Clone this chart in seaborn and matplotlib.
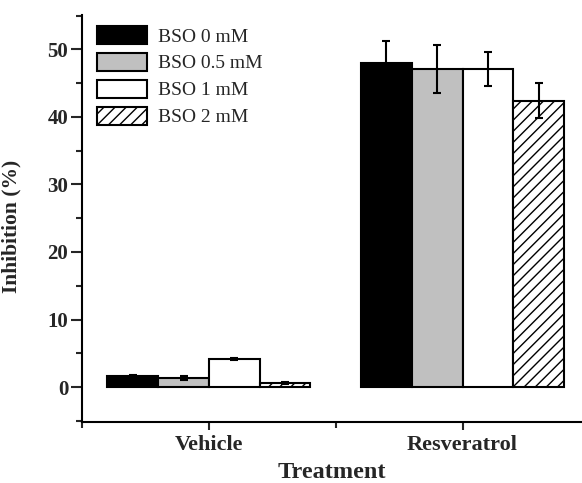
import matplotlib
matplotlib.use("Agg")
import matplotlib.pyplot as plt
import matplotlib.patches as mpatches
from matplotlib.ticker import MultipleLocator, FixedLocator
import seaborn as sns
import pandas as pd

treatments = ["Vehicle", "Resveratrol"]
bso_levels = ["BSO 0 mM", "BSO 0.5 mM", "BSO 1 mM", "BSO 2 mM"]
vehicle_means = [1.7, 1.4, 4.1, 0.6]
vehicle_errs = [0.15, 0.3, 0.15, 0.15]
resv_means = [48.0, 47.1, 47.1, 42.4]
resv_errs = [3.2, 3.6, 2.5, 2.6]
fill_colors = ["#000000", "#c0c0c0", "#ffffff", "#ffffff"]
hatches = ["", "", "", "///"]

rows = []
for t, means, errs in [(treatments[0], vehicle_means, vehicle_errs),
                       (treatments[1], resv_means, resv_errs)]:
    for b, m, e in zip(bso_levels, means, errs):
        rows.append(dict(Treatment=t, BSO=b, Inhibition=m, Err=e))
df = pd.DataFrame(rows)

sns.set_theme(style="ticks")
plt.rcParams["font.family"] = ["Liberation Serif", "DejaVu Serif"]
plt.rcParams["hatch.linewidth"] = 1.0
plt.rcParams["hatch.color"] = "black"

fig = plt.figure(figsize=(5.82, 4.83), dpi=100)
ax = fig.add_axes([0.141, 0.126, 0.859, 0.843])
sns.barplot(data=df, x="Treatment", y="Inhibition", hue="BSO", order=treatments,
            hue_order=bso_levels, palette=fill_colors, errorbar=None, width=0.8,
            edgecolor="black", linewidth=1.5, saturation=1, ax=ax, legend=False)

for cont, h, b in zip(ax.containers, hatches, bso_levels):
    sub = df[df.BSO == b].set_index("Treatment").loc[treatments]
    xs = [p.get_x() + p.get_width() / 2 for p in cont.patches]
    for p in cont.patches:
        p.set_hatch(h)
    ax.errorbar(xs, sub.Inhibition.values, yerr=sub.Err.values, fmt="none",
                ecolor="black", elinewidth=1.5, capsize=3, capthick=1.5, zorder=5)

ax.set_xlim(-0.5, 1.471)
ax.set_ylim(-5.2, 55.1)
ax.yaxis.set_major_locator(MultipleLocator(10))
ax.yaxis.set_minor_locator(MultipleLocator(5))
ax.xaxis.set_minor_locator(FixedLocator([-0.5, 0.5, 1.5]))
ax.tick_params(axis="y", which="major", direction="out", length=8, width=1.5,
               labelsize=15, pad=2)
ax.tick_params(axis="x", which="major", direction="out", length=6, width=1.5,
               labelsize=16, pad=3)
ax.tick_params(axis="both", which="minor", direction="out", length=4, width=1.5)
for lab in ax.get_xticklabels() + ax.get_yticklabels():
    lab.set_fontweight("bold")
for s in ["left", "bottom"]:
    ax.spines[s].set_linewidth(1.5)
    ax.spines[s].set_color("black")
ax.spines["top"].set_visible(False)
ax.spines["right"].set_visible(False)

ax.set_ylabel("Inhibition (%)", fontsize=15.5, fontweight="bold")
ax.set_xlabel("Treatment", fontsize=17.5, fontweight="bold")
ax.xaxis.set_label_coords(0.5, -0.098)
ax.yaxis.set_label_coords(-0.121, 0.48)

handles = [mpatches.Patch(facecolor=c, edgecolor="black", hatch=h, linewidth=1.5)
           for c, h in zip(fill_colors, hatches)]
ax.legend(handles, bso_levels, loc="upper left", bbox_to_anchor=(97 / 582, 1 - 26 / 483),
          bbox_transform=fig.transFigure, frameon=False, fontsize=14,
          handlelength=2.58, handleheight=1.03, labelspacing=0.38, handletextpad=0.55,
          borderpad=0, borderaxespad=0)

fig.savefig("out.png", dpi=100)
